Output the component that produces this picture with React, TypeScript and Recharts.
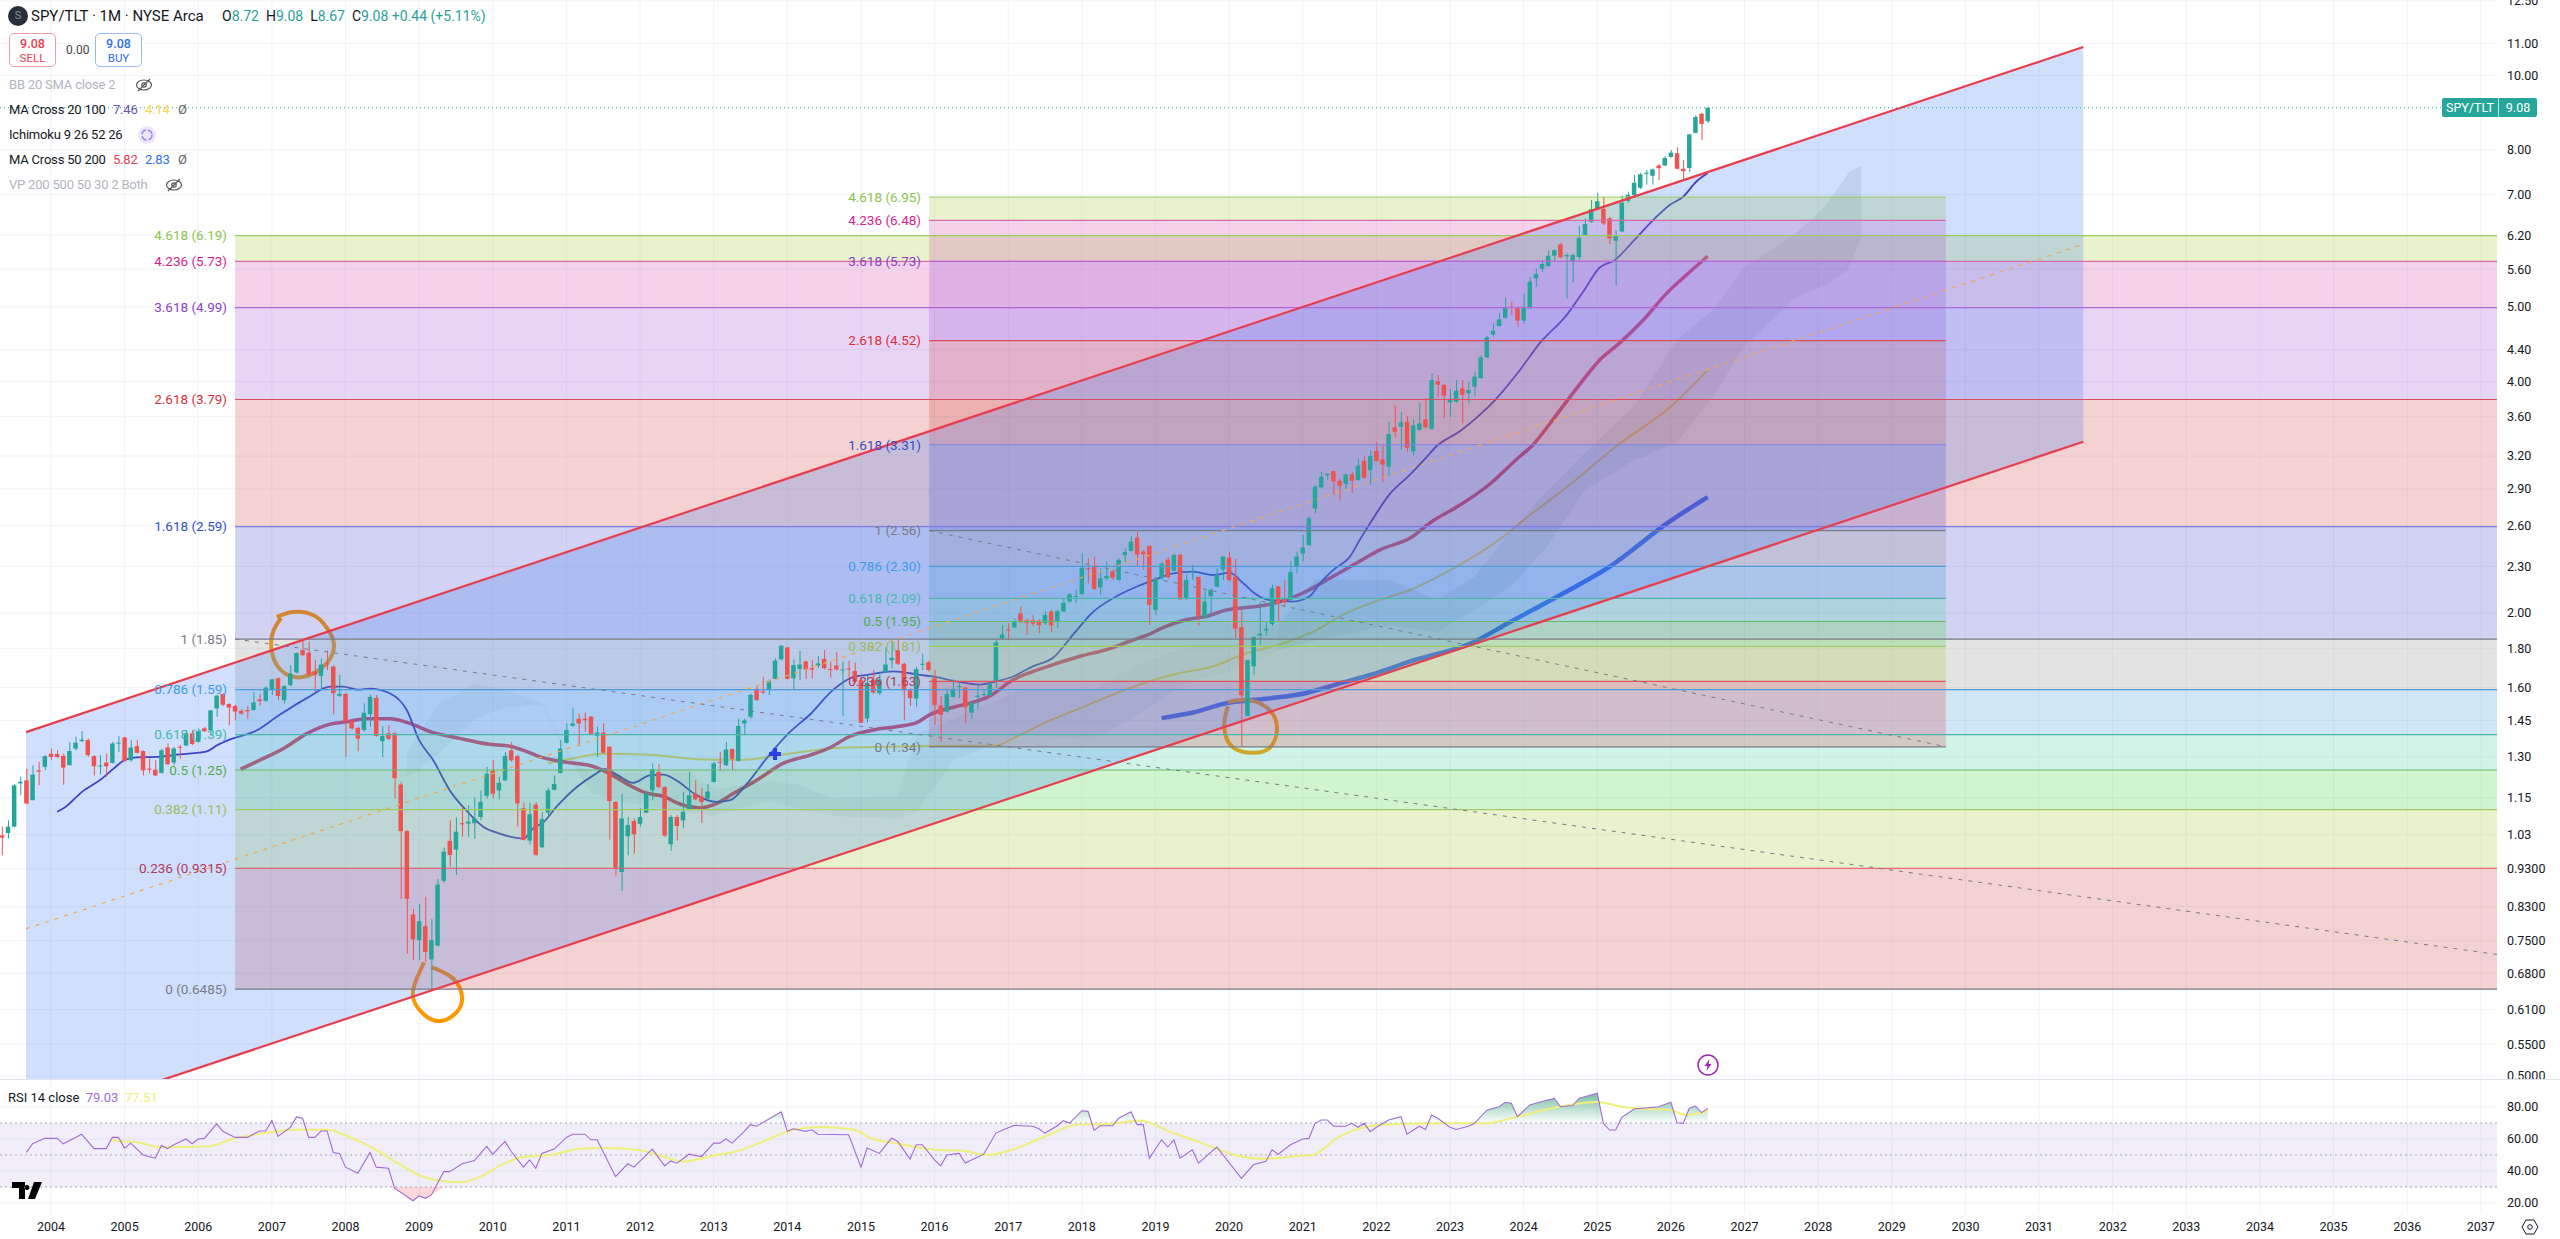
import React from 'react';
import {
  ComposedChart, Bar, Line, Area, XAxis, YAxis, CartesianGrid,
  ReferenceArea, ReferenceLine, ReferenceDot,
} from 'recharts';

// ---------- monthly candles [open, high, low, close]; first row is May 2003 ----------
const candles2003to2007 = [
  [1.028,1.055,0.968,1.021],[1.035,1.075,1.018,1.055],[1.055,1.199,1.053,1.194],[1.201,1.225,1.159,1.207],
  [1.212,1.255,1.128,1.131],[1.142,1.268,1.142,1.233],[1.249,1.281,1.194,1.244],[1.262,1.307,1.249,1.303],
  [1.312,1.333,1.287,1.300],[1.311,1.326,1.297,1.299],[1.304,1.313,1.196,1.259],[1.268,1.360,1.268,1.323],
  [1.333,1.381,1.326,1.357],[1.363,1.404,1.360,1.369],[1.367,1.374,1.300,1.307],[1.303,1.307,1.230,1.264],
  [1.263,1.307,1.234,1.267],[1.278,1.313,1.225,1.264],[1.277,1.360,1.274,1.353],[1.354,1.383,1.319,1.357],
  [1.378,1.381,1.281,1.285],[1.287,1.367,1.281,1.337],[1.342,1.367,1.313,1.316],[1.323,1.326,1.230,1.249],
  [1.255,1.293,1.237,1.252],[1.251,1.287,1.227,1.230],[1.239,1.333,1.237,1.326],[1.337,1.353,1.268,1.272],
  [1.278,1.340,1.268,1.333],[1.340,1.347,1.293,1.337],[1.345,1.409,1.342,1.395],[1.395,1.409,1.347,1.351],
  [1.360,1.416,1.357,1.404],[1.416,1.423,1.402,1.404],[1.409,1.497,1.385,1.494],[1.503,1.565,1.466,1.562],
  [1.570,1.573,1.514,1.520],[1.523,1.526,1.430,1.507],[1.514,1.519,1.451,1.489],[1.492,1.500,1.475,1.480],
  [1.496,1.514,1.458,1.490],[1.496,1.580,1.493,1.530],[1.544,1.570,1.514,1.536],[1.538,1.607,1.533,1.600],
  [1.592,1.642,1.565,1.640],[1.645,1.650,1.541,1.560],[1.541,1.612,1.526,1.607],[1.612,1.711,1.604,1.669],
  [1.674,1.777,1.669,1.774],[1.790,1.841,1.758,1.763],[1.776,1.835,1.657,1.662],[1.679,1.737,1.580,1.662],
  [1.657,1.746,1.596,1.714],[1.720,1.787,1.686,1.714],
];
const candles2008to2013 = [
  [1.703,1.711,1.475,1.573],[1.561,1.662,1.556,1.570],[1.570,1.573,1.300,1.447],[1.447,1.451,1.409,1.416],
  [1.418,1.423,1.322,1.373],[1.409,1.526,1.402,1.484],[1.477,1.565,1.423,1.556],[1.551,1.565,1.381,1.384],
  [1.363,1.425,1.299,1.384],[1.395,1.430,1.367,1.372],[1.395,1.398,1.148,1.220],[1.197,1.207,0.850,1.041],
  [1.041,1.044,0.721,0.850],[0.811,0.825,0.708,0.753],[0.751,0.837,0.708,0.795],[0.783,0.855,0.704,0.725],
  [0.709,0.801,0.648,0.751],[0.739,0.902,0.737,0.887],[0.897,0.991,0.892,0.979],[1.011,1.075,0.935,0.969],
  [0.985,1.084,0.913,1.039],[1.066,1.120,1.023,1.062],[1.065,1.125,1.023,1.071],[1.066,1.153,1.018,1.081],
  [1.086,1.176,1.075,1.136],[1.157,1.262,1.148,1.236],[1.248,1.287,1.148,1.164],[1.176,1.225,1.145,1.203],
  [1.212,1.319,1.209,1.304],[1.326,1.360,1.281,1.287],[1.303,1.307,1.055,1.131],[1.115,1.133,1.012,1.014],
  [1.012,1.133,1.000,1.095],[1.127,1.136,0.967,0.970],[0.992,1.103,0.990,1.079],[1.100,1.183,1.086,1.176],
  [1.178,1.230,1.176,1.199],[1.239,1.367,1.237,1.333],[1.356,1.437,1.353,1.409],[1.427,1.503,1.423,1.437],
  [1.457,1.480,1.342,1.437],[1.457,1.484,1.402,1.451],[1.466,1.469,1.389,1.393],[1.385,1.423,1.300,1.398],
  [1.398,1.437,1.313,1.316],[1.340,1.342,1.015,1.139],[1.136,1.139,0.911,0.933],[0.921,1.163,0.870,1.081],
  [1.025,1.086,0.968,1.060],[1.073,1.081,0.973,1.031],[1.064,1.115,1.055,1.086],[1.100,1.176,1.099,1.165],
  [1.176,1.275,1.142,1.253],[1.243,1.272,1.183,1.188],[1.188,1.190,1.023,1.027],[1.001,1.092,0.981,1.086],
  [1.086,1.092,1.012,1.057],[1.075,1.170,1.050,1.103],[1.110,1.243,1.108,1.159],[1.165,1.212,1.142,1.145],
  [1.155,1.183,1.067,1.136],[1.148,1.199,1.142,1.172],[1.206,1.281,1.204,1.275],[1.281,1.319,1.247,1.278],
  [1.268,1.360,1.264,1.329],[1.331,1.333,1.249,1.293],[1.285,1.458,1.281,1.426],[1.437,1.458,1.388,1.450],
  [1.466,1.570,1.458,1.565],[1.594,1.612,1.538,1.541],[1.582,1.653,1.570,1.576],[1.587,1.638,1.565,1.632],
];
const candles2014to2019 = [
  [1.642,1.746,1.640,1.734],[1.741,1.818,1.737,1.813],[1.804,1.808,1.640,1.642],[1.645,1.741,1.592,1.711],
  [1.692,1.787,1.636,1.714],[1.730,1.734,1.642,1.689],[1.696,1.737,1.645,1.688],[1.708,1.758,1.695,1.720],
  [1.743,1.790,1.689,1.695],[1.691,1.729,1.649,1.686],[1.709,1.780,1.683,1.689],[1.684,1.729,1.470,1.689],
  [1.694,1.734,1.649,1.689],[1.681,1.724,1.623,1.628],[1.636,1.653,1.438,1.440],[1.458,1.662,1.441,1.623],
  [1.636,1.686,1.570,1.576],[1.573,1.669,1.565,1.640],[1.674,1.804,1.671,1.714],[1.737,1.841,1.695,1.749],
  [1.790,1.845,1.711,1.718],[1.718,1.724,1.451,1.587],[1.587,1.595,1.514,1.551],[1.548,1.703,1.511,1.691],
  [1.714,1.772,1.686,1.718],[1.726,1.734,1.679,1.686],[1.645,1.686,1.430,1.519],[1.516,1.558,1.360,1.475],
  [1.489,1.595,1.484,1.570],[1.556,1.638,1.553,1.594],[1.602,1.620,1.551,1.607],[1.600,1.604,1.437,1.508],
  [1.484,1.533,1.458,1.529],[1.556,1.612,1.500,1.562],[1.564,1.591,1.558,1.569],[1.564,1.629,1.561,1.620],
  [1.630,1.844,1.597,1.832],[1.855,1.930,1.846,1.875],[1.904,1.940,1.846,1.898],[1.915,1.968,1.910,1.946],
  [1.997,2.040,1.940,1.946],[1.957,1.968,1.873,1.942],[1.957,1.989,1.921,1.938],[1.955,1.963,1.883,1.929],
  [1.940,2.009,1.930,1.989],[2.009,2.019,1.892,1.927],[1.947,2.019,1.911,2.011],[2.009,2.090,2.005,2.063],
  [2.070,2.122,2.063,2.116],[2.099,2.147,2.060,2.105],[2.116,2.391,2.112,2.290],[2.287,2.356,2.186,2.280],
  [2.295,2.368,2.143,2.149],[2.160,2.287,2.112,2.219],[2.219,2.333,2.208,2.235],[2.267,2.276,2.208,2.222],
  [2.208,2.356,2.204,2.345],[2.379,2.428,2.326,2.400],[2.409,2.516,2.404,2.477],[2.505,2.552,2.299,2.382],
  [2.404,2.416,2.276,2.385],[2.445,2.447,1.931,2.049],[2.019,2.229,1.989,2.215],[2.225,2.333,2.208,2.319],
  [2.346,2.365,2.219,2.225],[2.270,2.391,2.264,2.379],[2.381,2.386,2.080,2.084],[2.086,2.241,2.080,2.208],
  [2.257,2.310,2.208,2.264],[2.228,2.230,1.925,1.983],[1.975,2.140,1.968,2.070],[2.105,2.154,1.999,2.143],
];
const candles2020to2026 = [
  [2.165,2.287,2.160,2.241],[2.278,2.372,2.208,2.368],[2.361,2.403,2.197,2.208],[2.229,2.352,1.855,1.908],
  [1.917,2.019,1.341,1.563],[1.470,1.741,1.467,1.737],[1.705,1.864,1.663,1.861],[1.871,2.070,1.818,1.880],
  [1.898,1.950,1.869,1.908],[1.935,2.176,1.925,2.154],[2.165,2.169,1.950,2.055],[2.080,2.208,2.040,2.066],
  [2.080,2.333,2.075,2.261],[2.302,2.403,2.252,2.368],[2.391,2.529,2.333,2.433],[2.451,2.670,2.445,2.656],
  [2.735,2.934,2.695,2.919],[2.914,3.053,2.905,3.008],[3.022,3.038,2.978,3.034],[3.059,3.065,2.849,2.966],
  [2.972,2.993,2.800,2.928],[2.943,3.038,2.891,3.029],[3.029,3.053,2.863,2.972],[2.978,3.178,2.972,3.109],
  [3.153,3.200,2.990,2.998],[3.068,3.258,2.934,3.200],[3.250,3.340,3.147,3.153],[3.169,3.310,2.963,3.119],
  [3.100,3.546,3.014,3.418],[3.484,3.727,3.390,3.442],[3.493,3.647,3.258,3.539],[3.546,3.607,3.240,3.281],
  [3.244,3.572,3.209,3.508],[3.460,3.747,3.453,3.529],[3.571,3.805,3.475,3.488],[3.472,4.099,3.460,4.018],
  [4.002,4.079,3.822,3.962],[3.958,3.970,3.584,3.833],[3.757,3.918,3.597,3.790],[3.765,4.018,3.754,3.891],
  [3.918,4.018,3.529,3.844],[3.860,3.998,3.747,3.899],[3.939,4.120,3.822,4.059],[4.042,4.330,4.034,4.300],
  [4.300,4.584,4.292,4.566],[4.604,4.761,4.574,4.655],[4.723,4.906,4.713,4.818],[4.840,5.144,4.830,4.994],
  [5.004,5.079,4.880,4.994],[4.984,5.004,4.713,4.800],[4.800,5.207,4.761,4.994],[4.979,5.474,4.970,5.392],
  [5.446,5.613,5.312,5.518],[5.606,5.754,5.557,5.687],[5.652,5.920,5.641,5.830],[5.830,5.944,5.742,5.926],
  [6.030,6.060,5.783,5.800],[5.818,5.870,5.130,5.841],[5.740,5.870,5.378,5.841],[5.806,6.370,5.752,6.147],
  [6.195,6.520,6.190,6.410],[6.452,6.890,6.435,6.698],[6.698,7.040,6.685,6.861],[6.704,6.945,6.390,6.422],
  [6.520,6.553,6.035,6.140],[6.098,6.294,5.330,6.195],[6.268,6.980,6.255,6.832],[6.871,7.060,6.831,6.997],
  [6.990,7.423,6.970,7.254],[7.145,7.475,7.117,7.437],[7.450,7.535,7.214,7.475],[7.406,7.565,7.214,7.550],
  [7.637,7.670,7.309,7.575],[7.637,7.856,7.620,7.810],[7.835,8.000,7.817,7.936],[7.920,8.065,7.548,7.563],
  [7.563,7.763,7.309,7.510],[7.580,8.397,7.490,8.380],[8.423,8.880,8.406,8.830],[8.915,8.942,8.242,8.650],
  [8.72,9.08,8.67,9.08],
];
const firstCandleMonth = -8; // months from Jan 2004

// ---------- moving averages, read at [month from Jan 2004, value] ----------
const ma20 = [[1,1.103],[2.3,1.118],[5,1.17],[8.3,1.218],[10.2,1.255],[12,1.288],[14,1.298],[17.2,1.3],[21,1.31],[25.4,1.322],[27,1.345],[29.2,1.37],[33.5,1.407],[36.8,1.466],[41.7,1.55],[45.5,1.604],[47.6,1.604],[50,1.59],[52,1.595],[55.2,1.573],[58,1.495],[60,1.367],[62.3,1.287],[65,1.176],[67.7,1.107],[70.5,1.054],[73,1.034],[77,1.018],[78.6,1.05],[80.2,1.068],[82.4,1.12],[85.7,1.188],[88.4,1.23],[90.3,1.253],[92.4,1.23],[94.9,1.203],[97.6,1.23],[99.8,1.233],[102.5,1.203],[105,1.162],[108.5,1.136],[110.7,1.142],[113.4,1.199],[116.6,1.294],[120.4,1.4],[123.7,1.476],[127.5,1.59],[130.7,1.651],[133,1.662],[137.3,1.679],[141.6,1.662],[144.3,1.651],[147.5,1.63],[151.4,1.614],[154,1.63],[156.8,1.654],[160,1.705],[163.3,1.749],[166.6,1.876],[169.9,2.009],[173.1,2.091],[177,2.165],[180,2.212],[182.9,2.252],[186.1,2.264],[189.4,2.241],[192.1,2.257],[194.3,2.186],[196.5,2.112],[198.4,2.08],[202.4,2.07],[205.1,2.101],[206.8,2.186],[209,2.276],[211.7,2.368],[213.3,2.49],[215,2.618],[218.2,2.857],[221.4,3.022],[224,3.177],[225.8,3.295],[229.6,3.446],[232.3,3.588],[235.6,3.804],[239.4,4.141],[242.6,4.484],[247,4.88],[249.7,5.234],[252.4,5.627],[254.9,5.756],[257.8,6.08],[261.1,6.485],[263.8,6.785],[266,6.954],[268.2,7.285],[270,7.46]];
const ma50 = [[30.9,1.253],[34,1.287],[37.9,1.333],[41.7,1.394],[45.5,1.434],[48.2,1.444],[51.4,1.457],[55.2,1.457],[58.5,1.437],[61.8,1.402],[66.6,1.374],[71.5,1.35],[74.8,1.342],[77,1.326],[79.7,1.3],[83.5,1.281],[88,1.266],[90.5,1.243],[94.3,1.194],[97,1.167],[99.8,1.155],[102.5,1.129],[105.8,1.116],[108.5,1.131],[111.2,1.165],[115,1.212],[119.3,1.275],[123.7,1.307],[127,1.337],[130.2,1.383],[134,1.409],[138.3,1.425],[141,1.439],[143.2,1.475],[146,1.501],[148.6,1.519],[153,1.56],[156.8,1.638],[160,1.678],[163.3,1.713],[167.7,1.757],[172,1.792],[175.8,1.838],[178.5,1.87],[181.7,1.921],[185,1.96],[188.3,1.98],[191.6,2.019],[194.8,2.033],[198,2.049],[201.3,2.08],[205,2.143],[208.4,2.219],[212.7,2.321],[216.6,2.416],[221.5,2.504],[225.4,2.642],[228.2,2.72],[234.7,2.952],[239,3.177],[241.5,3.308],[244.8,3.571],[248.6,3.916],[252.4,4.267],[255.9,4.507],[259.5,4.809],[263.3,5.208],[266.5,5.501],[270,5.82]];
const ma100 = [[81,1.275],[85,1.294],[90,1.312],[97.6,1.308],[106.3,1.29],[113,1.289],[120.4,1.313],[128.6,1.336],[136.8,1.34],[143.2,1.343],[151.4,1.344],[154,1.345],[156.8,1.375],[162,1.44],[167.7,1.504],[173,1.566],[179,1.63],[184,1.671],[189.4,1.705],[194.8,1.773],[200,1.818],[205.7,1.892],[211.1,1.999],[216.6,2.08],[221.5,2.143],[228.7,2.289],[236.6,2.511],[239.4,2.619],[247.9,2.952],[255.2,3.3],[263.8,3.7],[270,4.14]];
const ma200 = [[181,1.46],[186.1,1.485],[191.6,1.527],[198,1.547],[204.6,1.574],[210,1.62],[216,1.671],[221.5,1.73],[231.9,1.834],[237.5,1.941],[245,2.091],[254.4,2.309],[263.7,2.627],[270,2.83]];

// ---------- Ichimoku cloud, [month, upper span, lower span] ----------
const cloudEarly = [[58,1.316,1.22],[63,1.518,1.307],[69,1.62,1.455],[74,1.589,1.508],[80,1.528,1.518],[85,1.288,1.27],[88,1.24,1.168],[94,1.24,1.133],[104,1.24,1.1],[108,1.18,1.09],[117,1.21,1.14],[122,1.195,1.115],[127,1.15,1.09],[138,1.155,1.08],[141,1.39,1.1],[147,1.455,1.288],[158,1.589,1.39],[170,1.589,1.367],[177,1.71,1.474],[186,1.82,1.636],[193,1.82,1.686],[200,1.93,1.79]];
const cloudLate = [[200,1.93,1.79],[206,2.21,1.84],[218,2.21,1.93],[226,2.08,1.89],[232,2.23,2.02],[238,2.56,2.17],[244,2.89,2.45],[250,3.23,2.89],[258,3.72,3.16],[265,4.53,3.33],[271,4.97,3.84],[276,5.64,4.45],[284,6.2,5.13],[289,6.74,5.33],[293,7.48,5.6],[295,7.63,6.16]];

// ---------- hand-drawn circles, [month, price] ----------
const circleTop = [[36.8,1.976],[39.4,2.006],[42.7,1.988],[45,1.912],[46.1,1.828],[45.5,1.745],[43.2,1.676],[39.9,1.65],[37,1.702],[35.9,1.806],[36.3,1.9],[37.5,1.97]];
const circleLow = [[60.8,0.703],[59.5,0.666],[59,0.633],[60.5,0.604],[63.2,0.589],[66,0.604],[67,0.633],[65.5,0.67],[62,0.693]];
const circleCovid = [[191.8,1.532],[194.9,1.542],[198.2,1.506],[199.8,1.422],[198.7,1.338],[195.9,1.316],[192.6,1.338],[191.2,1.422],[191.8,1.512]];

// ---------- RSI and its average, [month, value] ----------
const rsi = [[-4,51.6],[-3,57],[-1,60.4],[1,60.4],[2,57],[4,61],[5,63],[7,54],[9,54],[10,61],[11,61],[12,54.3],[13,57.4],[15,50],[17,48],[18,56],[19,54],[20,56.4],[22,60],[23,57],[24,60],[25,60.4],[27,69.4],[28,64.8],[30,61],[32,61],[34,65],[35,65],[36,71.5],[37,61.6],[39,67.3],[40,73.8],[41,73],[42,61],[43,61],[44,65],[45,65],[46,51.6],[47,51],[48,42.4],[50,38.6],[52,51.6],[53,42.4],[55,41.7],[56,29.2],[58,24],[59,21.4],[60,24.4],[61,22.9],[62,25],[64,39.6],[65,39.6],[67,44.5],[69,46.5],[71,55.4],[72,50.5],[74,58.5],[75,52.2],[77,42.4],[78,47],[79,41.7],[80,51],[82,53.7],[84,61],[85,63],[87,63],[88,59.5],[89,59.5],[92,36.5],[94,44.5],[95,42.4],[98,53.7],[100,43.2],[101,46.3],[102,44.9],[104,50.5],[106,49],[108,57.4],[109,57.4],[110,60],[111,57.4],[113,64.8],[114,69],[115,68],[119,77],[120,64.8],[121,66.4],[123,64.8],[124,65.8],[125,63],[130,62.7],[132,42.4],[133,54.3],[135,51],[137,60.6],[138,58.5],[140,47.4],[141,56.4],[142,56.4],[144,47],[145,43.2],[146,50],[148,51],[149,45],[152,50.5],[154,63.7],[156,67],[157,68.5],[160,68],[161,66.4],[162,63.7],[164,68.3],[165,71.5],[166,70],[168,77.7],[169,77.3],[170,65.4],[171,68.3],[173,68.3],[174,73],[176,77],[177,69],[178,69],[179,48],[181,59.5],[182,55],[183,59.5],[184,48],[186,53.3],[187,44.9],[190,55],[194,35.4],[196,44],[198,46],[199,53.3],[200,50.5],[202,56.4],[204,60],[205,60.4],[206,69.8],[207,71.9],[208,71.9],[209,68],[211,68],[212,69.8],[213,67.3],[214,69.8],[215,64.6],[216,67.3],[218,71.9],[220,74],[221,63],[223,68],[224,66],[225,75],[226,73],[228,67.3],[229,66],[231,68],[232,69.8],[234,78],[236,80.2],[237,83],[238,82.3],[239,74],[241,81.3],[243,83.4],[245,85.4],[246,80.2],[248,80.9],[249,85.4],[252,88.6],[253,69.8],[254,65.6],[255,65.6],[256,73.6],[258,78.8],[262,80.2],[264,83],[265,70.2],[266,69.8],[267,79.2],[268,80.6],[269,76.5],[270,79.03]];
const rsiAverage = [[10,59.1],[14,57.9],[18,54.9],[25.5,55.3],[30,60.6],[35,63.7],[39.7,65.8],[45,65.8],[48.4,61.6],[52.5,54.3],[56.5,44.9],[60.6,36.5],[63.3,34],[66.7,32.9],[70,36.5],[74,44.9],[76.8,48.6],[81.5,50],[86.3,53.9],[90.3,54.3],[95.7,53.2],[99.8,49],[103,45.9],[108,49.5],[112.6,53.2],[117.4,60.6],[120.7,65.4],[125.5,67.5],[130.9,65.8],[133.6,60.6],[139,56.4],[144.4,53.2],[148.4,52.8],[152.5,50],[156.6,53.2],[162,61.6],[167.4,69],[172.8,69.6],[177.5,71.5],[182.2,64.8],[187.6,57.4],[193,50],[197.8,47.6],[203.5,49.5],[205.5,50],[210,61.5],[214.7,68],[219.3,69.4],[227,69.8],[233.8,69.8],[239,74],[245.7,80.2],[252,83.2],[256,80.2],[260,78.8],[263.8,78.2],[266.4,75],[270,77.51]];

// ---------- Fibonacci levels, channel, axes ----------
const fibRatios = ['0','0.236','0.382','0.5','0.618','0.786','1','1.618','2.618','3.618','4.236','4.618'];
const lowerFibPrices = ['0.6485','0.9315','1.11','1.25','1.39','1.59','1.85','2.59','3.79','4.99','5.73','6.19'];
const upperFibPrices = ['1.34','1.63','1.81','1.95','2.09','2.30','2.56','3.31','4.52','5.73','6.48','6.95'];
const channelMonths = [-4.07, 331.2];
const channelTop = [1.40, 10.89];
const channelBottom = [0.4316, 3.34];
const channelMiddle = [0.777, 6.03];
const priceTicks = [12.5,11,10,8,7,6.2,5.6,5,4.4,4,3.6,3.2,2.9,2.6,2.3,2,1.8,1.6,1.45,1.3,1.15,1.03,0.93,0.83,0.75,0.68,0.61,0.55,0.5];
const rsiTicks = [20,40,60,80];
const yearLabels = Array.from({ length: 34 }, (_, i) => 2004 + i);
const lastPrice = 9.08;

// ---------- styles ----------
const bandFills = ['rgba(211,75,75,.25)','rgba(163,207,55,.25)','rgba(67,211,55,.25)','rgba(67,211,163,.25)','rgba(63,155,211,.25)','rgba(143,143,143,.25)','rgba(75,75,203,.25)','rgba(211,75,75,.25)','rgba(163,83,211,.25)','rgba(211,75,171,.25)','rgba(163,207,55,.25)'];
const lineColors = ['#787b86','#e0525f','#9ccc65','#66bb6a','#4db6ac','#4f9bd9','#787b86','#7f7fe0','#d9505c','#b36ad8','#d96aa8','#9ccc65'];
const labelColors = ['#787b86','#b03a5c','#9cbb5a','#4caf50','#3fb8ad','#3d9be9','#787b86','#2f4fc9','#d9303a','#8e3fc4','#d91e8c','#8bc34a'];
const FONT = 'Roboto, "Noto Sans", sans-serif';
const UP = '#26a69a';
const DOWN = '#ef5350';
const UNDER = 50; // beneath the translucent drawings

const xDomain = [-8.31, 398.63];
const yDomain = [0.4956, 12.535];
const monthTicks = yearLabels.map((y) => (y - 2004) * 12);
const pts = (rows) => rows.map(([m, v]) => ({ m, v }));
const spans = (rows) => rows.map(([m, u, l]) => ({ m, band: [l, u] }));
const candleData = [...candles2003to2007, ...candles2008to2013, ...candles2014to2019, ...candles2020to2026].map(([o, h, l, c], i) => ({
  m: i + firstCandleMonth,
  wick: [l, h],
  body: [Math.min(o, c), Math.max(o, c)],
  up: c >= o,
}));
const channelData = channelMonths.map((m, i) => ({ m, band: [channelBottom[i], channelTop[i]] }));
const rsiAbove = rsi.map(([m, v]) => ({ m, band: [70, Math.max(70, v)] }));
const rsiBelow = rsi.map(([m, v]) => ({ m, band: [Math.min(30, v), 30] }));

const candleShape = (w) => (props) => {
  const { x, y, width, height, payload } = props;
  return <rect x={x + width / 2 - w / 2} y={y} width={w} height={Math.max(height, 1)} fill={payload.up ? UP : DOWN} />;
};
const WickShape = candleShape(1);
const BodyShape = candleShape(4.5);
const Cross = ({ cx, cy }) => (
  <path d={`M${cx - 2} ${cy - 6}h4v4h4v4h-4v4h-4v-4h-4v-4h4z`} fill="#2b3fe6" />
);

const fibLayer = (prices, x1, x2, key) => {
  const out = [];
  for (let i = 0; i < prices.length - 1; i++) {
    out.push(
      <ReferenceArea key={`${key}a${i}`} x1={x1} x2={x2} y1={+prices[i]} y2={+prices[i + 1]} fill={bandFills[i]} fillOpacity={1} stroke="none" />
    );
  }
  prices.forEach((p, i) => {
    out.push(
      <ReferenceLine
        key={`${key}l${i}`}
        segment={[{ x: x1, y: +p }, { x: x2, y: +p }]}
        stroke={lineColors[i]}
        strokeWidth={1.2}
        label={{ value: `${fibRatios[i]} (${p})`, position: 'left', offset: 8, fill: labelColors[i], fontSize: 13.5, fontFamily: FONT }}
      />
    );
  });
  return out;
};

const EyeOff = () => (
  <svg width="18" height="14" viewBox="0 0 18 14" style={{ marginLeft: 10 }}>
    <ellipse cx="9" cy="7" rx="7.5" ry="5" fill="none" stroke="#555" strokeWidth="1.2" />
    <circle cx="9" cy="7" r="2.2" fill="none" stroke="#555" strokeWidth="1.2" />
    <line x1="3" y1="13" x2="15" y2="1" stroke="#555" strokeWidth="1.2" />
  </svg>
);

const Row = ({ top, children, color = '#131722' }) => (
  <div style={{ position: 'absolute', left: 9, top, height: 20, lineHeight: '20px', fontSize: 13, letterSpacing: -0.2, color, whiteSpace: 'pre' }}>{children}</div>
);
const At = ({ x, color, children }) => (
  <span style={{ position: 'absolute', left: x - 9, top: 0, color }}>{children}</span>
);
const Tag = ({ left, title, color, border }) => (
  <div style={{ position: 'absolute', left, top: 33, width: 47, height: 34, border: `1px solid ${border}`, borderRadius: 5, color, textAlign: 'center', fontSize: 12.5, lineHeight: '15px', paddingTop: 2, boxSizing: 'border-box', background: '#fff' }}>
    <div style={{ fontWeight: 500 }}>9.08</div>
    <div style={{ fontSize: 11.5 }}>{title}</div>
  </div>
);

export default function App() {
  return (
    <div style={{ position: 'absolute', left: 0, top: 0, width: 2560, height: 1239, overflow: 'hidden', background: '#fff', fontFamily: FONT }}>
      <div style={{ position: 'absolute', left: 0, top: 0, width: 2560, height: 1079, overflow: 'hidden' }}>
        <ComposedChart width={2560} height={1079} data={candleData} margin={{ top: 0, right: 0, bottom: 0, left: 0 }} barGap={0}>
          <XAxis dataKey="m" type="number" domain={xDomain} allowDataOverflow ticks={monthTicks} hide />
          <XAxis xAxisId="wick" dataKey="m" type="number" domain={xDomain} allowDataOverflow hide />
          <YAxis
            orientation="right" width={63} scale="log" domain={yDomain} allowDataOverflow ticks={priceTicks} interval={0}
            axisLine={false} tickLine={false} tickSize={6} tickMargin={4}
            tick={{ fill: '#131722', fontSize: 12.5, fontFamily: FONT }}
            tickFormatter={(v) => (v < 1 ? v.toFixed(4) : v.toFixed(2))}
          />
          <CartesianGrid stroke="#f0f3fa" verticalValues={monthTicks} horizontalValues={priceTicks} />

          <Line data={pts(ma100)} dataKey="v" stroke="#fdd835" strokeWidth={2} dot={false} activeDot={false} type="monotone" isAnimationActive={false} zIndex={UNDER} />
          <Line data={pts(ma50)} dataKey="v" stroke="#e8304a" strokeWidth={3.5} dot={false} activeDot={false} type="monotone" isAnimationActive={false} zIndex={UNDER} />
          <Line data={pts(ma20)} dataKey="v" stroke="#3a2fb8" strokeWidth={1.8} dot={false} activeDot={false} type="monotone" isAnimationActive={false} zIndex={UNDER} />
          <Line data={pts(ma200)} dataKey="v" stroke="#2458f5" strokeWidth={4.5} dot={false} activeDot={false} type="monotone" isAnimationActive={false} zIndex={UNDER} />
          <Line data={pts(circleTop)} dataKey="v" stroke="#ff9800" strokeWidth={4} dot={false} activeDot={false} type="natural" isAnimationActive={false} zIndex={UNDER} />
          <Line data={pts(circleLow)} dataKey="v" stroke="#ff9800" strokeWidth={4} dot={false} activeDot={false} type="natural" isAnimationActive={false} zIndex={UNDER} />
          <Line data={pts(circleCovid)} dataKey="v" stroke="#ff9800" strokeWidth={4} dot={false} activeDot={false} type="natural" isAnimationActive={false} zIndex={UNDER} />

          <Area data={spans(cloudEarly)} dataKey="band" stroke="none" fill="rgba(90,105,115,.07)" fillOpacity={1} type="linear" activeDot={false} dot={false} isAnimationActive={false} />
          <Area data={spans(cloudLate)} dataKey="band" stroke="none" fill="rgba(90,105,115,.13)" fillOpacity={1} type="linear" activeDot={false} dot={false} isAnimationActive={false} />

          {fibLayer(lowerFibPrices, 30, xDomain[1], 'low')}
          {fibLayer(upperFibPrices, 143.1, 308.8, 'up')}

          <Area data={channelData} dataKey="band" stroke="none" fill="rgba(67,127,239,.25)" fillOpacity={1} type="linear" activeDot={false} dot={false} isAnimationActive={false} />

          <ReferenceLine segment={[{ x: channelMonths[0], y: channelTop[0] }, { x: channelMonths[1], y: channelTop[1] }]} stroke="#e63e4d" strokeWidth={2.2} ifOverflow="hidden" />
          <ReferenceLine segment={[{ x: channelMonths[0], y: channelBottom[0] }, { x: channelMonths[1], y: channelBottom[1] }]} stroke="#e63e4d" strokeWidth={2.2} ifOverflow="hidden" />
          <ReferenceLine segment={[{ x: channelMonths[0], y: channelMiddle[0] }, { x: channelMonths[1], y: channelMiddle[1] }]} stroke="#f0a94f" strokeWidth={1.2} strokeDasharray="4 6" ifOverflow="hidden" />
          <ReferenceLine segment={[{ x: 30, y: 1.85 }, { x: xDomain[1], y: 0.7195 }]} stroke="#787b86" strokeWidth={1} strokeDasharray="4 6" ifOverflow="hidden" />
          <ReferenceLine segment={[{ x: 143.1, y: 2.56 }, { x: 308.8, y: 1.34 }]} stroke="#787b86" strokeWidth={1} strokeDasharray="4 6" ifOverflow="hidden" />
          <ReferenceLine y={lastPrice} stroke="#26a69a" strokeWidth={1} strokeDasharray="1 3" ifOverflow="hidden" />

          <Bar xAxisId="wick" dataKey="wick" barSize={1} shape={WickShape} isAnimationActive={false} />
          <Bar dataKey="body" barSize={5} shape={BodyShape} isAnimationActive={false} />

          <ReferenceDot x={118} y={1.311} r={6} shape={Cross} ifOverflow="visible" />
        </ComposedChart>
      </div>

      <div style={{ position: 'absolute', left: 0, top: 1079, width: 2560, height: 1, background: '#e0e3eb' }} />

      <div style={{ position: 'absolute', left: 0, top: 1080 }}>
        <ComposedChart width={2560} height={159} data={[]} margin={{ top: 0, right: 0, bottom: 0, left: 0 }}>
          <XAxis
            dataKey="m" type="number" domain={xDomain} allowDataOverflow ticks={monthTicks} interval={0} height={25}
            axisLine={false} tickLine={false}
            tick={{ fill: '#131722', fontSize: 12.5, fontFamily: FONT }}
            tickFormatter={(t) => String(2004 + t / 12)}
          />
          <YAxis
            orientation="right" width={63} domain={[13.1, 96.9]} allowDataOverflow ticks={rsiTicks} interval={0}
            axisLine={false} tickLine={false} tickSize={6} tickMargin={4}
            tick={{ fill: '#131722', fontSize: 12.5, fontFamily: FONT }}
            tickFormatter={(v) => v.toFixed(2)}
          />
          <defs>
            <linearGradient id="rsiUp" x1="0" y1="0" x2="0" y2="1">
              <stop offset="0%" stopColor="#2e9e6b" stopOpacity={0.65} />
              <stop offset="100%" stopColor="#2e9e6b" stopOpacity={0} />
            </linearGradient>
          </defs>
          <CartesianGrid stroke="#f0f3fa" verticalValues={monthTicks} horizontalValues={rsiTicks} />
          <ReferenceArea y1={30} y2={70} fill="rgba(126,87,194,.1)" fillOpacity={1} stroke="none" />
          <ReferenceLine y={70} stroke="#a7a4b8" strokeDasharray="2 3" />
          <ReferenceLine y={50} stroke="#a7a4b8" strokeDasharray="2 3" />
          <ReferenceLine y={30} stroke="#a7a4b8" strokeDasharray="2 3" />
          <Area data={rsiAbove} dataKey="band" stroke="none" fill="url(#rsiUp)" fillOpacity={1} type="linear" activeDot={false} dot={false} isAnimationActive={false} />
          <Area data={rsiBelow} dataKey="band" stroke="none" fill="rgba(242,54,69,.2)" fillOpacity={1} type="linear" activeDot={false} dot={false} isAnimationActive={false} />
          <Line data={pts(rsiAverage)} dataKey="v" stroke="#eef07a" strokeWidth={2} dot={false} activeDot={false} type="monotone" isAnimationActive={false} />
          <Line data={pts(rsi)} dataKey="v" stroke="#a06cd5" strokeWidth={1.1} dot={false} activeDot={false} type="linear" isAnimationActive={false} />
        </ComposedChart>
      </div>

      {/* title and indicator legend */}
      <div style={{ position: 'absolute', left: 8, top: 6, width: 20, height: 20, borderRadius: 10, background: '#2a2e39', color: '#8a8e99', fontSize: 11, lineHeight: '20px', textAlign: 'center' }}>S</div>
      <div style={{ position: 'absolute', left: 31, top: 6, height: 20, lineHeight: '20px', fontSize: 15, color: '#131722', whiteSpace: 'pre' }}>SPY/TLT · 1M · NYSE Arca</div>
      <div style={{ position: 'absolute', left: 222, top: 6, height: 20, lineHeight: '20px', fontSize: 14, color: '#131722', whiteSpace: 'pre' }}>
        O<span style={{ color: '#2aa198' }}>8.72</span>{'  '}H<span style={{ color: '#2aa198' }}>9.08</span>{'  '}L<span style={{ color: '#2aa198' }}>8.67</span>{'  '}C<span style={{ color: '#2aa198' }}>9.08 +0.44 (+5.11%)</span>
      </div>
      <Tag left={9} title="SELL" color="#e8404f" border="#f09aa2" />
      <div style={{ position: 'absolute', left: 66, top: 43, fontSize: 12, lineHeight: '15px', color: '#444' }}>0.00</div>
      <Tag left={95} title="BUY" color="#2f6ff0" border="#9ab8f5" />
      <Row top={75} color="#b2b5be">BB 20 SMA close 2<span style={{ position: 'absolute', left: 116, top: 3 }}><EyeOff /></span></Row>
      <Row top={100}>MA Cross 20 100<At x={113} color="#6a4fc0">7.46</At><At x={145} color="#f5d94a">4.14</At><At x={178} color="#666">Ø</At></Row>
      <Row top={125}>Ichimoku 9 26 52 26
        <svg width="18" height="18" viewBox="0 0 18 18" style={{ position: 'absolute', left: 129, top: 1 }}>
          <circle cx="9" cy="9" r="9" fill="#ece6fb" />
          <circle cx="9" cy="9" r="5" fill="none" stroke="#a68be8" strokeWidth="1.6" strokeDasharray="6 2" />
        </svg>
      </Row>
      <Row top={150}>MA Cross 50 200<At x={113} color="#e8404f">5.82</At><At x={145} color="#2f6ff0">2.83</At><At x={178} color="#666">Ø</At></Row>
      <Row top={175} color="#b2b5be">VP 200 500 50 30 2 Both<span style={{ position: 'absolute', left: 146, top: 3 }}><EyeOff /></span></Row>

      {/* last price tag */}
      <div style={{ position: 'absolute', left: 2442, top: 98, width: 95, height: 19, borderRadius: 2, background: '#26a69a', color: '#fff', fontSize: 12.5, lineHeight: '19px', display: 'flex' }}>
        <div style={{ width: 56, textAlign: 'center', borderRight: '1px solid #bfe6e2' }}>SPY/TLT</div>
        <div style={{ flex: 1, textAlign: 'center' }}>9.08</div>
      </div>

      {/* RSI legend */}
      <div style={{ position: 'absolute', left: 8, top: 1088, height: 20, lineHeight: '20px', fontSize: 13, color: '#131722', whiteSpace: 'pre' }}>
        RSI 14 close  <span style={{ color: '#a06cd5' }}>79.03</span>  <span style={{ color: '#eef07a' }}>77.51</span>
      </div>

      {/* logo, event mark, settings */}
      <svg width="30" height="17" viewBox="0 0 30 17" style={{ position: 'absolute', left: 12, top: 1182 }}>
        <path d="M0 0h13v17h-6v-11h-7z M22 0h8l-7 17h-7z M15 3a2.5 2.5 0 1 0 .01 0z" fill="#000" />
      </svg>
      <svg width="22" height="22" viewBox="0 0 22 22" style={{ position: 'absolute', left: 1697, top: 1054 }}>
        <circle cx="11" cy="11" r="10" fill="#fff" stroke="#9c27b0" strokeWidth="1.5" />
        <path d="M12.5 5L7.5 12h3l-1 5 5-7h-3z" fill="#9c27b0" />
      </svg>
      <svg width="18" height="18" viewBox="0 0 18 18" style={{ position: 'absolute', left: 2521, top: 1218 }}>
        <path d="M5 2h8l4 7-4 7H5L1 9z" fill="none" stroke="#131722" strokeWidth="1" />
        <circle cx="9" cy="9" r="2.3" fill="none" stroke="#131722" strokeWidth="1" />
      </svg>
    </div>
  );
}
